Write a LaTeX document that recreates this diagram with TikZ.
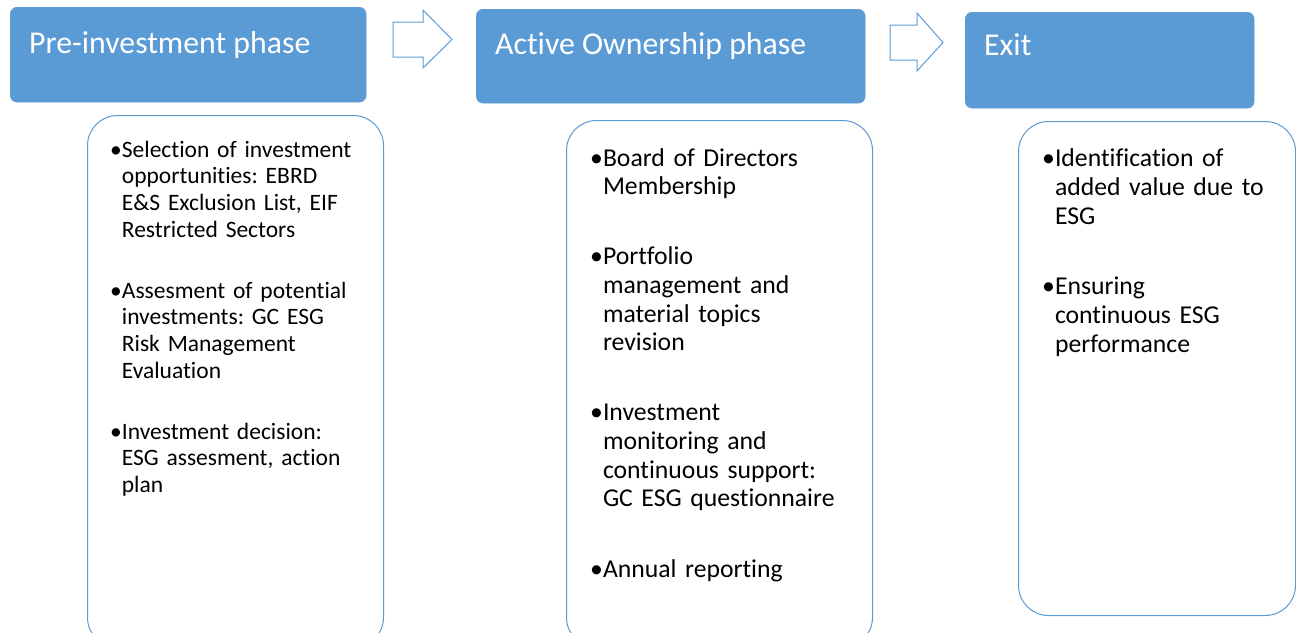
\documentclass[tikz,border=0pt]{standalone}
\usepackage{fontspec}
\setmainfont[Ligatures=NoCommon]{Carlito}
\definecolor{hblue}{HTML}{5B9BD5}
\newcommand{\bitem}[1]{\setbox0\hbox{•}\hangindent=\wd0 \hangafter=1 \noindent\box0 #1\par}
\begin{document}
\begin{tikzpicture}[x=1pt,y=-1pt,
  header/.style={fill=hblue, draw=hblue, rounded corners=7pt, inner sep=0pt, anchor=north west},
  htext/.style={text=white, font=\fontsize{31.8}{38}\selectfont, inner sep=0pt, anchor=base west},
  bodybox/.style={draw=hblue, line width=1pt, rounded corners=30pt, anchor=north west, inner sep=0pt},
  btext/.style={inner sep=0pt, anchor=base west},
  blockarrow/.style={draw=hblue, fill=white, line width=1pt, line join=miter}]
\useasboundingbox (0,0) rectangle (1296,632);
\fill[white] (0,0) rectangle (1296,632);
% headers
\node[header, minimum width=356pt, minimum height=95pt] (h1) at (10,7) {};
\node[header, minimum width=389pt, minimum height=94pt] (h2) at (476,9) {};
\node[header, minimum width=289pt, minimum height=96pt] (h3) at (965,12) {};
\node[htext] (t1) at (29,53) {Pre-investment phase};
\node[htext] (t2) at (495,54) {Active Ownership phase};
\node[htext] (t3) at (984,55) {Exit};
% block arrows
\draw[blockarrow] (393,22) -- (423,22) -- (423,10) -- (452,39.5) -- (423,68) -- (423,57) -- (393,57) -- cycle;
\draw[blockarrow] (890,25) -- (917,25) -- (917,13) -- (943,42.5) -- (917,71) -- (917,60) -- (890,60) -- cycle;
% body boxes
\node[bodybox, minimum width=296pt, minimum height=532pt] (b1) at (87,115) {};
\node[bodybox, minimum width=306pt, minimum height=527pt] (b2) at (566,120) {};
\node[bodybox, minimum width=277pt, minimum height=494pt] (b3) at (1018,121) {};
% body texts
\node[btext, text width=265pt, font=\fontsize{23.5}{26.7}\selectfont\frenchspacing\raggedright] (l1) at (110,157) {%
\bitem{Selection of investment\newline opportunities: EBRD\newline E\&S Exclusion List, EIF\newline Restricted Sectors}\vspace{34.3pt}%
\bitem{Assesment of potential\newline investments: GC ESG\newline Risk Management\newline Evaluation}\vspace{34.3pt}%
\bitem{Investment decision:\newline ESG assesment, action\newline plan}};
\node[btext, text width=280pt, font=\fontsize{25.7}{28.7}\selectfont\frenchspacing\raggedright] (l2) at (590,166) {%
\bitem{Board of Directors\newline Membership}\vspace{41.3pt}%
\bitem{Portfolio\newline management and\newline material topics\newline revision}\vspace{41.3pt}%
\bitem{Investment\newline monitoring and\newline continuous support:\newline GC ESG questionnaire}\vspace{41.8pt}%
\bitem{Annual reporting}};
\node[btext, text width=245pt, font=\fontsize{25.7}{29}\selectfont\frenchspacing\raggedright] (l3) at (1042,166) {%
\bitem{Identification of\newline added value due to\newline ESG}\vspace{41pt}%
\bitem{Ensuring\newline continuous ESG\newline performance}};
\end{tikzpicture}
\end{document}
